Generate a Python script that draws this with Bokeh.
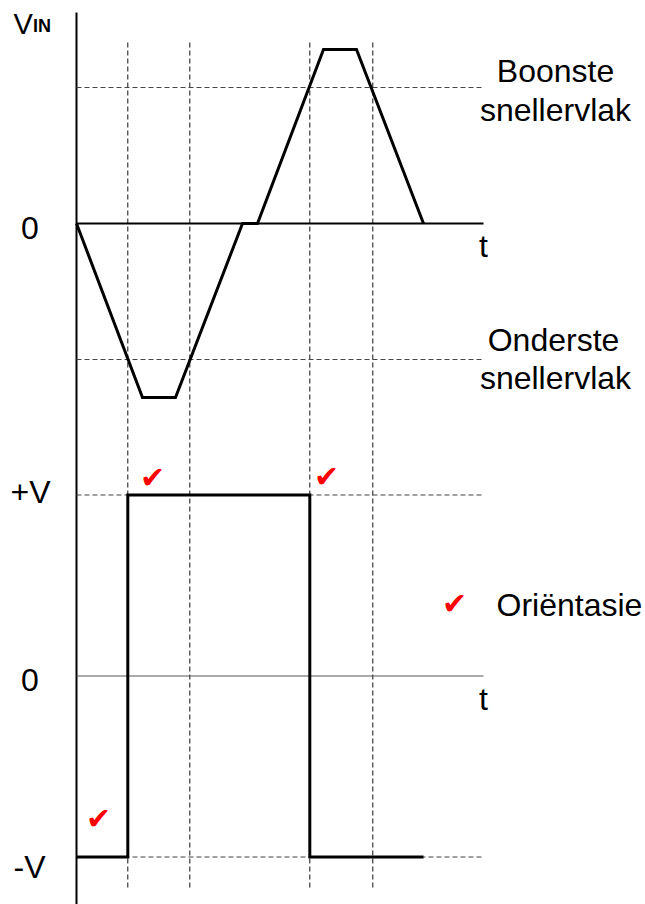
from bokeh.plotting import figure
from bokeh.models import Range1d
from bokeh.core.properties import value
from bokeh.embed import file_html
from bokeh.resources import INLINE

# ---- data -------------------------------------------------------------
# input triangle-like wave (time in arbitrary units, voltage in arbitrary units)
vin_t = [0.0, 6.6, 9.9, 16.6, 18.1, 24.7, 28.0, 34.7]
vin_v = [0.0, -8.7, -8.7, 0.0, 0.0, 8.7, 8.7, 0.0]
upper_trigger = 6.8
lower_trigger = -6.8
# switching instants (where the input crosses a trigger level)
switch_t = [5.13, 11.33, 23.33, 29.63]
# output square wave (+V = 1, -V = -1)
out_t = [0.0, 5.13, 5.13, 23.33, 23.33, 34.7]
out_v = [-1, -1, 1, 1, -1, -1]
t_end = 40.7
top_ticks = ["0"]
bottom_ticks = ["+V", "0", "-V"]
right_labels = ["Boonste", "snellervlak", "Onderste", "snellervlak"]

FONT = value("Liberation Sans")
BLACK = "#000000"
GREY = "#444444"
RED = "#ff0000"

W, H = 645, 904
TXT = 9  # baseline correction (px)
# layout: t = 0 at x = 76 px, 10 px per unit; top panel zero at y = 223 px,
# 20 px per unit; bottom panel zero at y = 675.5 px, 181 px per unit
p = figure(width=W, height=H, output_backend="svg", toolbar_location=None,
           x_range=Range1d(-7.6, (W - 76) / 10),
           y_range=Range1d((223 - H) / 20, 223 / 20),
           min_border=0, min_border_left=0, min_border_right=0,
           min_border_top=0, min_border_bottom=0)
p.axis.visible = False
p.grid.visible = False
p.outline_line_color = None
p.background_fill_color = "white"
p.border_fill_color = "white"
p.extra_y_ranges = {"out": Range1d((675.5 - H) / 181, 675.5 / 181)}

def ty(py):
    return (223 - py) / 20

def by(py):
    return (675.5 - py) / 181

# vertical axis line
p.segment(x0=[0], y0=[ty(12)], x1=[0], y1=[ty(910)], line_color=BLACK, line_width=2)

# dashed switching guides through both panels
p.segment(x0=switch_t, y0=[ty(42)] * 4, x1=switch_t, y1=[ty(887)] * 4,
          line_color="#111111", line_width=1, line_dash="5 3")

# top panel: trigger levels and zero line
p.segment(x0=[0, 0], y0=[upper_trigger, lower_trigger], x1=[t_end, t_end],
          y1=[upper_trigger, lower_trigger], line_color=GREY, line_width=1,
          line_dash="5 3")
p.segment(x0=[0], y0=[0], x1=[t_end], y1=[0], line_color=BLACK, line_width=2)
p.line(vin_t, vin_v, line_color=BLACK, line_width=3, line_join="miter")

# bottom panel: +V / -V guides and zero line
p.segment(x0=[0, 0], y0=[1, -1], x1=[t_end, t_end], y1=[1, -1],
          line_color=GREY, line_width=1, line_dash="5 3", y_range_name="out")
p.segment(x0=[0], y0=[0], x1=[t_end], y1=[0], line_color="#555555", line_width=1,
          y_range_name="out")
p.line(out_t, out_v, line_color=BLACK, line_width=3, line_join="miter",
       y_range_name="out")

# ---- texts -------------------------------------------------------------
p.text(x=[-6.3], y=[ty(32 - TXT)], text=["V"], text_font=FONT, text_font_size="29px",
       text_align="left", text_baseline="alphabetic", text_color=BLACK)
p.text(x=[-4.35], y=[ty(34 - TXT)], text=["IN"], text_font=FONT, text_font_size="18px",
       text_font_style="bold", text_align="left", text_baseline="alphabetic",
       text_color=BLACK)
p.text(x=[-4.65], y=[ty(236 - TXT)], text=top_ticks, text_font=FONT,
       text_font_size="32px", text_align="center", text_baseline="alphabetic")
p.text(x=[t_end], y=[ty(254 - TXT)], text=["t"], text_font=FONT, text_font_size="32px",
       text_align="center", text_baseline="alphabetic")
p.text(x=[47.9, 47.9, 47.7, 47.9],
       y=[ty(79 - TXT), ty(118 - TXT), ty(348 - TXT), ty(386 - TXT)],
       text=right_labels, text_font=FONT, text_font_size="32px",
       text_align="center", text_baseline="alphabetic")

p.text(x=[-4.6, -4.65, -4.7], y=[by(500 - TXT), by(688 - TXT), by(875 - TXT)],
       text=bottom_ticks, text_font=FONT, text_font_size="32px",
       text_align="center", text_baseline="alphabetic", y_range_name="out")
p.text(x=[t_end], y=[by(707 - TXT)], text=["t"], text_font=FONT,
       text_font_size="32px", text_align="center", text_baseline="alphabetic",
       y_range_name="out")
p.text(x=[42.0], y=[by(613 - TXT)], text=["Oriëntasie"], text_font=FONT,
       text_font_size="32px", text_align="left", text_baseline="alphabetic",
       y_range_name="out")

# check marks
p.text(x=[7.6, 25.0, 2.2, 37.8], y=[by(477), by(476), by(818), by(603)],
       text=["\u2714"] * 4, text_font=value("DejaVu Sans"),
       text_font_size="30px", text_color=RED, text_align="center",
       text_baseline="middle", y_range_name="out")

open("out.html", "w").write(file_html(p, INLINE))
